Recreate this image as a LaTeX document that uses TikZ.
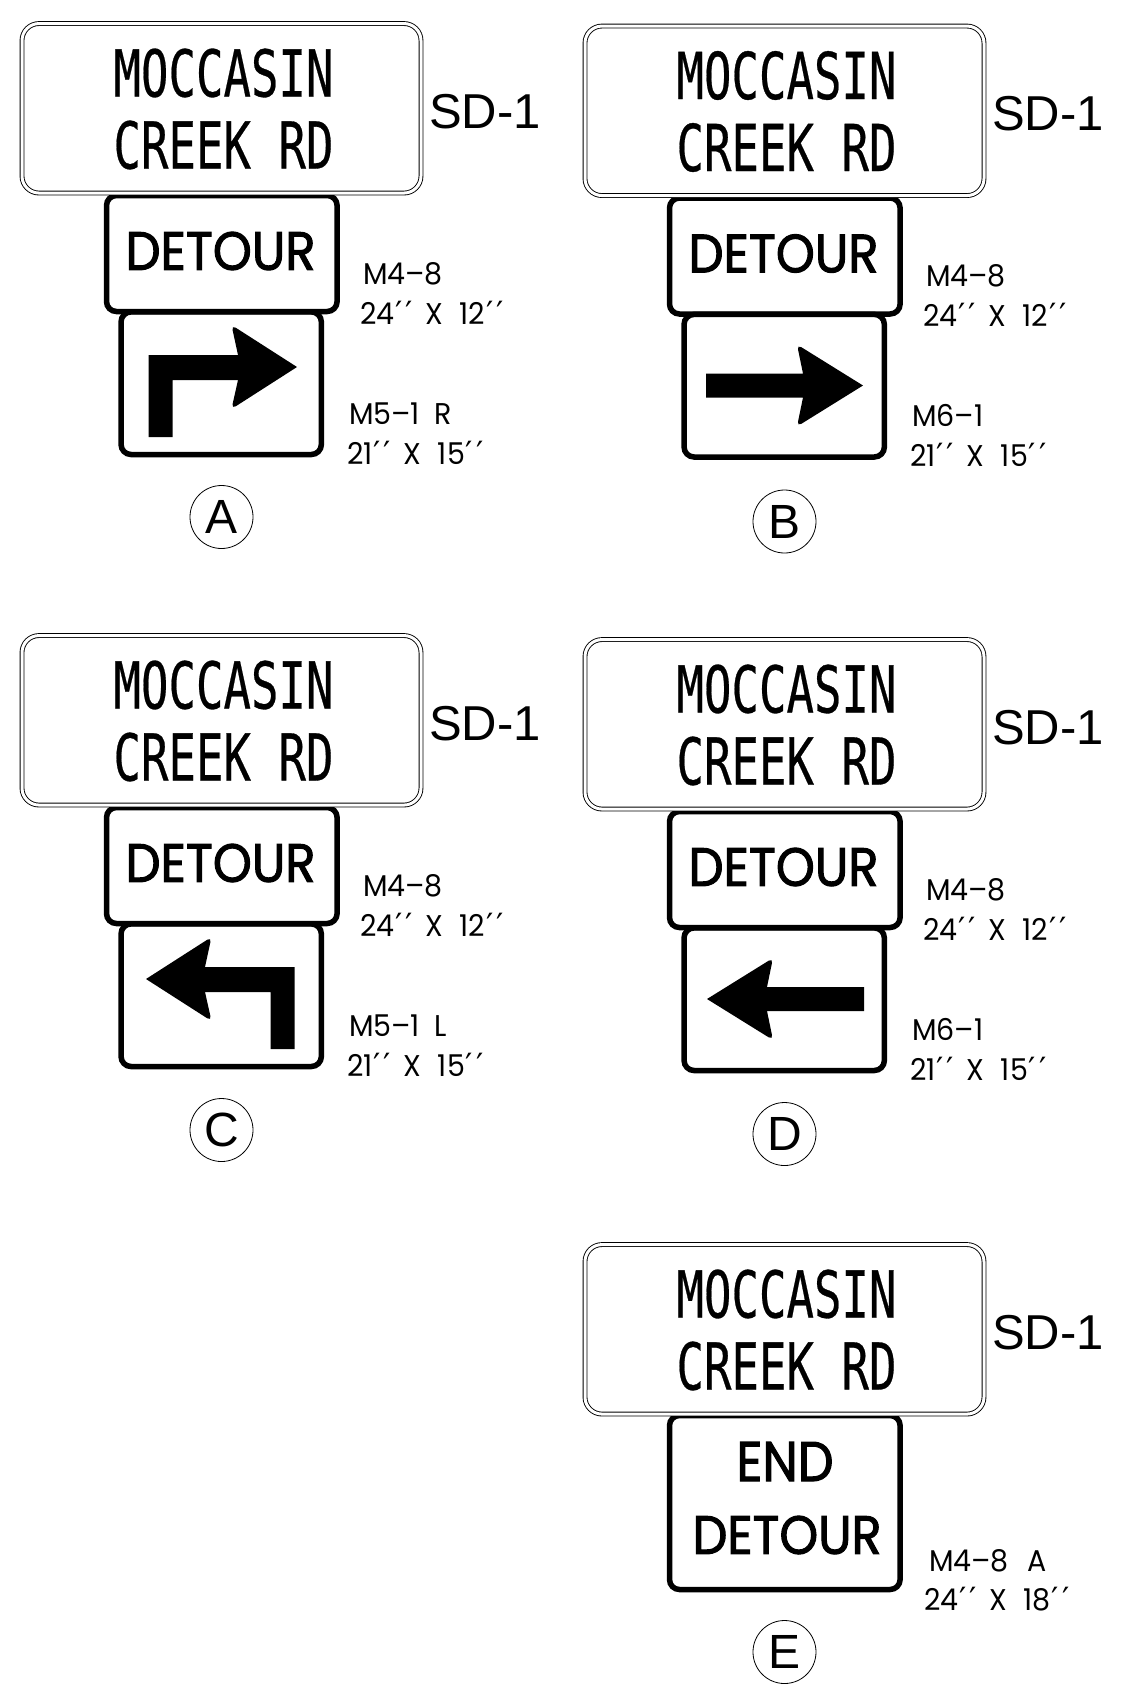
\documentclass[tikz,border=0pt]{standalone}
\usepackage{fontspec}
\setmainfont{Liberation Sans}
\newfontfamily\nameFont[FakeBold=.5]{DejaVu Sans Mono}
\newfontfamily\detourFont[FakeBold=2]{Poppins}
\newfontfamily\labelFont[FakeStretch=.95]{Poppins}
\newfontfamily\primeFont{DejaVu Sans}
\newcommand{\fitText}[3]{\resizebox{#1pt}{#2pt}{#3}}
\newcommand{\inches}[1]{#1\kern1pt{\primeFont\fontsize{32}{32}\selectfont ′\kern3pt′}}
\newcommand{\byGap}{\hspace{12pt}X\hspace{17pt}}
%% The white street name sign with its double border.
\newcommand{\nameSign}{%%
  \node[nameBox] (name) at (221.5,108.3) {};
  \node[plainText] (nameTop) at (223.5,73) {\fitText{220}{48}{\nameFont MOCCASIN}};
  \node[plainText] (nameBottom) at (223.5,145) {\fitText{220}{48}{\nameFont CREEK RD}};
  \node[plainText,anchor=base west,font=\fontsize{49}{49}\selectfont] (code) at (429,128) {SD-1};
}
\newcommand{\detourSign}{%%
  \node[signBox,minimum width=230.6pt,minimum height=116pt] (detour) at (221.8,253.5) {};
  \node[plainText] (detourText) at (220.5,251) {\fitText{190}{38}{\detourFont DETOUR}};
  \signLabel{363,284}{M4–8}
  \signLabel{360,324}{\inches{24}\byGap\inches{12}}
}
\newcommand{\signLabel}[2]{%%
  \node[labelText] at (#1) {#2};
}
\newcommand{\arrowSign}[2]{%%
  \node[signBox,minimum width=200.3pt,minimum height=142.6pt] (arrow) at (221.2,383.2) {};
  \signLabel{349,424}{#1}
  \signLabel{347,464}{\inches{21}\byGap\inches{15}}
}
\newcommand{\turnArrow}{%%
  \fill (148.5,437) -- (148.5,355) -- (238,355) [rounded corners=5pt] -- (231.5,325) [sharp corners] -- (297,367)
    [rounded corners=5pt] -- (231.5,409) [sharp corners] -- (238,380) -- (172.5,380) -- (172.5,437) -- cycle;
}
\newcommand{\straightArrow}{%%
  \fill (143,371) -- (240,371) [rounded corners=5pt] -- (234,342) [sharp corners] -- (300,383)
    [rounded corners=5pt] -- (234,424) [sharp corners] -- (240,395) -- (143,395) -- cycle;
}
\newcommand{\letterMark}[2]{%%
  \node[markCircle] (mark) at (221.5,#1) {#2};
}
\begin{document}
\begin{tikzpicture}[x=1pt,y=-1pt,%%
  nameBox/.style={draw,double,double distance=3pt,line width=.9pt,rounded corners=17pt,fill=white,%%
    minimum width=399pt,minimum height=169.5pt,inner sep=0pt},%%
  signBox/.style={draw,line width=5.5pt,rounded corners=10pt,inner sep=0pt},%%
  plainText/.style={inner sep=0pt,outer sep=0pt},%%
  labelText/.style={inner sep=0pt,anchor=base west,font=\labelFont\fontsize{30}{30}\selectfont},%%
  markCircle/.style={draw,circle,line width=.8pt,inner sep=0pt,minimum size=63pt,font=\fontsize{48}{48}\selectfont}%%
]
\useasboundingbox (0,0) rectangle (1143,1690);
%% Sign A.
\begin{scope}[shift={(0,0)},name prefix=a-]
  \detourSign
  \arrowSign{M5–1\hspace{14pt}R}{}
  \nameSign
  \turnArrow
  \letterMark{517}{A}
\end{scope}
%% Sign B.
\begin{scope}[shift={(563,2.5)},name prefix=b-]
  \detourSign
  \arrowSign{M6–1}{}
  \nameSign
  \straightArrow
  \letterMark{519}{B}
\end{scope}
%% Sign C.
\begin{scope}[shift={(0,612)},name prefix=c-]
  \detourSign
  \arrowSign{M5–1\hspace{14pt}L}{}
  \nameSign
  \begin{scope}[xshift=443pt,xscale=-1]
    \turnArrow
  \end{scope}
  \letterMark{518}{C}
\end{scope}
%% Sign D.
\begin{scope}[shift={(563,616)},name prefix=d-]
  \detourSign
  \arrowSign{M6–1}{}
  \nameSign
  \begin{scope}[xshift=444pt,xscale=-1]
    \straightArrow
  \end{scope}
  \letterMark{518}{D}
\end{scope}
%% Sign E, the taller one.
\begin{scope}[shift={(563,1221)},name prefix=e-]
  \node[signBox,minimum width=230.6pt,minimum height=174pt] (detour) at (221.8,281.5) {};
  \node[plainText] (endText) at (222,240.5) {\fitText{97}{39}{\detourFont END}};
  \node[plainText] (detourText) at (224,314) {\fitText{189}{38}{\detourFont DETOUR}};
  \signLabel{366,350}{M4–8\hspace{19pt}A}
  \signLabel{361,389}{\inches{24}\byGap\inches{18}}
  \nameSign
  \letterMark{431}{E}
\end{scope}
\end{tikzpicture}
\end{document}
